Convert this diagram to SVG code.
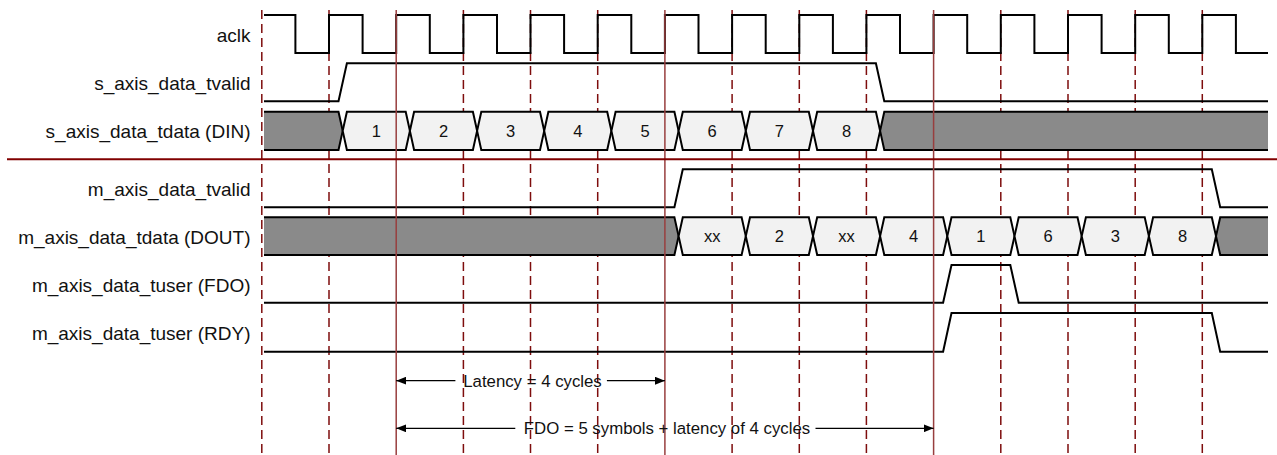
<svg xmlns="http://www.w3.org/2000/svg" width="1277" height="455" viewBox="0 0 1277 455">
<style>
.lbl{font-family:"Liberation Sans",Arial,sans-serif;font-size:19px;fill:#111;text-anchor:end}
.num{font-family:"Liberation Sans",Arial,sans-serif;font-size:16.5px;fill:#111;text-anchor:middle}
.ann{font-family:"Liberation Sans",Arial,sans-serif;font-size:16.8px;fill:#111;text-anchor:middle}
.wave{fill:none;stroke:#000;stroke-width:2}
.box{fill:#f2f2f2;stroke:#000;stroke-width:2;stroke-linejoin:miter}
.gray{fill:#8a8a8a;stroke:#000;stroke-width:2}
.dash{stroke:#7e0d0d;stroke-width:1.5;stroke-dasharray:9,5}
.solid{stroke:#983e3e;stroke-width:1.5}
.arr{stroke:#000;stroke-width:1.3;fill:none;marker-end:url(#ah)}
</style>
<defs>
<marker id="ah" markerUnits="userSpaceOnUse" markerWidth="10" markerHeight="8" refX="10" refY="4" orient="auto">
<path d="M0,0 L10,4 L0,8 Z" fill="#000"/>
</marker>
</defs>
<rect width="1277" height="455" fill="#fff"/>
<g id="gridDashed">
<line class="dash" x1="261.8" y1="10" x2="261.8" y2="455"/>
<line class="dash" x1="329" y1="10" x2="329" y2="455"/>
<line class="dash" x1="463.4" y1="10" x2="463.4" y2="455"/>
<line class="dash" x1="530.5" y1="10" x2="530.5" y2="455"/>
<line class="dash" x1="597.7" y1="10" x2="597.7" y2="455"/>
<line class="dash" x1="732.1" y1="10" x2="732.1" y2="455"/>
<line class="dash" x1="799.3" y1="10" x2="799.3" y2="455"/>
<line class="dash" x1="866.4" y1="10" x2="866.4" y2="455"/>
<line class="dash" x1="1000.8" y1="10" x2="1000.8" y2="455"/>
<line class="dash" x1="1068" y1="10" x2="1068" y2="455"/>
<line class="dash" x1="1135.2" y1="10" x2="1135.2" y2="455"/>
<line class="dash" x1="1202.3" y1="10" x2="1202.3" y2="455"/>
</g>
<g id="aclk">
<text class="lbl" x="250.5" y="42">aclk</text>
<path class="wave" d="M264,15 H295.4 V53 H329 V15 H362.6 V53 H396.2 V15 H429.8 V53 H463.4 V15 H497 V53 H530.5 V15 H564.1 V53 H597.7 V15 H631.3 V53 H664.9 V15 H698.5 V53 H732.1 V15 H765.7 V53 H799.3 V15 H832.9 V53 H866.4 V15 H900 V53 H933.6 V15 H967.2 V53 H1000.8 V15 H1034.4 V53 H1068 V15 H1101.6 V53 H1135.2 V15 H1168.8 V53 H1202.3 V15 H1235.9 V53 H1268"/>
</g>
<g id="s_axis_data_tvalid">
<text class="lbl" x="250.5" y="90">s_axis_data_tvalid</text>
<path class="wave" d="M264,101.3 H338.5 L346.9,63.3 H875.9 L884.3,101.3 H1268"/>
</g>
<g id="s_axis_data_tdata">
<text class="lbl" x="250.5" y="137.5">s_axis_data_tdata (DIN)</text>
<path class="gray" d="M264,111.7 H338.5 L342.7,130.85 L338.5,150 H264"/>
<path class="box" d="M346.9,111.7 H405.7 L409.9,130.85 L405.7,150 H346.9 L342.7,130.85 Z"/>
<path class="box" d="M414.1,111.7 H472.9 L477.1,130.85 L472.9,150 H414.1 L409.9,130.85 Z"/>
<path class="box" d="M481.3,111.7 H540 L544.2,130.85 L540,150 H481.3 L477.1,130.85 Z"/>
<path class="box" d="M548.4,111.7 H607.2 L611.4,130.85 L607.2,150 H548.4 L544.2,130.85 Z"/>
<path class="box" d="M615.6,111.7 H674.4 L678.6,130.85 L674.4,150 H615.6 L611.4,130.85 Z"/>
<path class="box" d="M682.8,111.7 H741.6 L745.8,130.85 L741.6,150 H682.8 L678.6,130.85 Z"/>
<path class="box" d="M750,111.7 H808.8 L813,130.85 L808.8,150 H750 L745.8,130.85 Z"/>
<path class="box" d="M817.2,111.7 H875.9 L880.1,130.85 L875.9,150 H817.2 L813,130.85 Z"/>
<path class="gray" d="M1268,111.7 H884.3 L880.1,130.85 L884.3,150 H1268"/>
<text class="num" x="376.3" y="136.8">1</text>
<text class="num" x="443.5" y="136.8">2</text>
<text class="num" x="510.7" y="136.8">3</text>
<text class="num" x="577.8" y="136.8">4</text>
<text class="num" x="645" y="136.8">5</text>
<text class="num" x="712.2" y="136.8">6</text>
<text class="num" x="779.4" y="136.8">7</text>
<text class="num" x="846.6" y="136.8">8</text>
</g>
<g id="m_axis_data_tvalid">
<text class="lbl" x="250.5" y="195.5">m_axis_data_tvalid</text>
<path class="wave" d="M264,207.3 H674.4 L682.8,169.3 H1211.8 L1220.2,207.3 H1268"/>
</g>
<g id="m_axis_data_tdata">
<text class="lbl" x="250.5" y="243.5">m_axis_data_tdata (DOUT)</text>
<path class="gray" d="M264,217.3 H674.4 L678.6,236.15 L674.4,255 H264"/>
<path class="box" d="M682.8,217.3 H741.6 L745.8,236.15 L741.6,255 H682.8 L678.6,236.15 Z"/>
<path class="box" d="M750,217.3 H808.8 L813,236.15 L808.8,255 H750 L745.8,236.15 Z"/>
<path class="box" d="M817.2,217.3 H875.9 L880.1,236.15 L875.9,255 H817.2 L813,236.15 Z"/>
<path class="box" d="M884.3,217.3 H943.1 L947.3,236.15 L943.1,255 H884.3 L880.1,236.15 Z"/>
<path class="box" d="M951.5,217.3 H1010.3 L1014.5,236.15 L1010.3,255 H951.5 L947.3,236.15 Z"/>
<path class="box" d="M1018.7,217.3 H1077.5 L1081.7,236.15 L1077.5,255 H1018.7 L1014.5,236.15 Z"/>
<path class="box" d="M1085.9,217.3 H1144.7 L1148.9,236.15 L1144.7,255 H1085.9 L1081.7,236.15 Z"/>
<path class="box" d="M1153.1,217.3 H1211.8 L1216,236.15 L1211.8,255 H1153.1 L1148.9,236.15 Z"/>
<path class="gray" d="M1268,217.3 H1220.2 L1216,236.15 L1220.2,255 H1268"/>
<text class="num" x="712.2" y="242">xx</text>
<text class="num" x="779.4" y="242">2</text>
<text class="num" x="846.6" y="242">xx</text>
<text class="num" x="913.7" y="242">4</text>
<text class="num" x="980.9" y="242">1</text>
<text class="num" x="1048.1" y="242">6</text>
<text class="num" x="1115.3" y="242">3</text>
<text class="num" x="1182.5" y="242">8</text>
</g>
<g id="m_axis_data_tuser_FDO">
<text class="lbl" x="250.5" y="292">m_axis_data_tuser (FDO)</text>
<path class="wave" d="M264,302.7 H943.1 L951.5,265 H1010.3 L1018.7,302.7 H1268"/>
</g>
<g id="m_axis_data_tuser_RDY">
<text class="lbl" x="250.5" y="340">m_axis_data_tuser (RDY)</text>
<path class="wave" d="M264,351.7 H943.1 L951.5,313 H1211.8 L1220.2,351.7 H1268"/>
</g>
<g id="gridSolid">
<line class="solid" x1="396.2" y1="10" x2="396.2" y2="455"/>
<line class="solid" x1="664.9" y1="10" x2="664.9" y2="455"/>
<line class="solid" x1="933.6" y1="10" x2="933.6" y2="455"/>
<line x1="7" y1="159.3" x2="1277" y2="159.3" stroke="#800000" stroke-width="2"/>
</g>
<g id="connectors">
<line class="arr" x1="455.4" y1="380.7" x2="396.2" y2="380.7"/>
<line class="arr" x1="606.9" y1="380.7" x2="664.9" y2="380.7"/>
<text class="ann" x="532.5" y="386.7">Latency = 4 cycles</text>
<line class="arr" x1="515.3" y1="428.3" x2="396.2" y2="428.3"/>
<line class="arr" x1="815.5" y1="428.3" x2="933.6" y2="428.3"/>
<text class="ann" x="667" y="434.3">FDO = 5 symbols + latency of 4 cycles</text>
</g>
</svg>
